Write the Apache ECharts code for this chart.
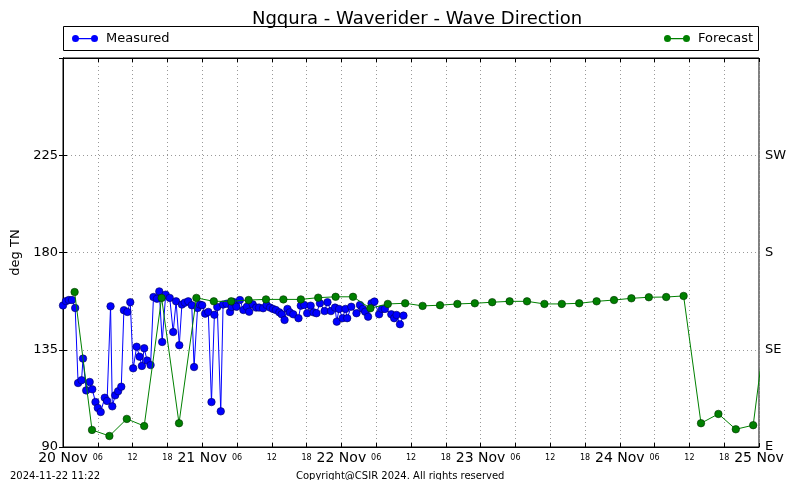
<!DOCTYPE html>
<html><head><meta charset="utf-8">
<script src="https://cdn.jsdelivr.net/npm/echarts@6/dist/echarts.min.js"></script>
<style>html,body{margin:0;padding:0;background:#fff}#c{width:800px;height:480px}</style>
</head><body><div id="c"></div>
<script>
// hours since 2024-11-20 00:00
const measuredHours = [0.0,0.5,1.0,1.55,2.1,2.6,3.2,3.45,4.0,4.6,5.05,5.6,6.0,6.5,7.2,7.6,8.2,8.5,9.0,9.5,10.05,10.5,11.1,11.6,12.1,12.7,13.2,13.6,14.0,14.5,15.1,
  15.6,16.2,16.6,17.1,17.7,18.4,19.0,19.5,20.05,20.5,21.0,21.6,22.2,22.6,23.2,23.6,24.0,24.5,25.05,25.6,26.1,26.6,27.2,27.6,28.2,28.8,29.1,29.4,
  29.9,30.5,31.1,31.7,32.1,32.7,33.3,33.8,34.5,35.1,35.7,36.2,36.7,37.3,37.7,38.2,38.7,39.1,39.7,40.6,41.0,41.6,42.1,42.7,43.2,43.7,44.3,45.1,45.6,46.2,46.9,47.2,47.6,48.2,48.7,49.0,49.7,50.6,51.2,51.7,52.1,52.6,53.2,53.7,54.5,55.0,55.5,56.6,57.1,57.5,58.1,58.7];
const measuredValues = [155.5,157.5,158,158,154.3,119.6,120.9,130.9,116.2,120.1,116.7,110.8,108.1,106.2,112.8,111.3,155.1,108.8,113.9,115.8,117.9,153.3,152.5,157.0,126.4,136.4,131.8,127.5,135.7,130.0,127.9,
  159.4,158.6,162.0,138.6,160.5,159.0,143.2,157.4,137.1,155.9,156.8,157.4,155.6,127.0,154.3,155.9,155.6,151.7,152.5,110.8,151.2,154.8,106.5,155.9,156.3,152.5,154.8,157.1,
  154.9,158.0,153.4,154.9,152.6,156.0,154.5,154.5,154.2,155.7,154.5,153.9,153.4,152.3,151.4,148.8,153.9,152.3,151.4,149.6,155.4,155.7,151.9,155.4,152.3,151.9,156.5,152.9,157.0,152.9,154.5,148.0,153.9,149.6,153.9,149.6,154.9,151.9,155.7,153.9,152.6,150.3,156.5,157.3,151.4,153.9,153.9,151.4,149.6,151.1,146.8,150.8];
const forecastHours = [2,5,8,11,14,17,20,23,26,29,32,35,38,41,44,47,50,53,56,59,62,65,68,71,74,77,80,83,86,89,92,95,98,101,104,107,110,113,116,119,122];
const forecastValues = [161.7,97.9,95.1,103,99.7,159,101,159,157.4,157.4,158,158.3,158.3,158.3,159.1,159.5,159.5,154.2,156.2,156.5,155.3,155.6,156.2,156.5,157.0,157.4,157.4,156.2,156.2,156.5,157.4,158.0,158.8,159.3,159.4,159.9,101,105.3,98.2,100.1,163];
const dayNames = ['20 Nov','21 Nov','22 Nov','23 Nov','24 Nov','25 Nov'];
const leftTickLabels = {90:'90',135:'135',180:'180',225:'225'};
const compassTickLabels = {90:'E',135:'SE',180:'S',225:'SW'};

const FONT = 'DejaVu Sans';
const chart = echarts.init(document.getElementById('c'), null, {renderer:'canvas'});
const legendIcon = 'path://M0,3.5A3.5,3.5 0 1,1 7,3.5A3.5,3.5 0 1,1 0,3.5Z M6,3L20,3L20,4.2L6,4.2Z M19,3.5A3.5,3.5 0 1,1 26,3.5A3.5,3.5 0 1,1 19,3.5Z';
const gridLine = {show:true, lineStyle:{color:'#999', type:[1,3], width:1}};
const legendCommon = {top:27, itemWidth:26, itemHeight:7, icon:legendIcon, z:10,
  itemStyle:{borderWidth:0},
  textStyle:{fontFamily:FONT, fontSize:13, color:'#000', padding:[0,0,0,3]}};

chart.setOption({
  animation:false,
  backgroundColor:'#fff',
  grid:{left:63, right:41, top:58, bottom:33, show:true, borderColor:'#000', borderWidth:1, containLabel:false},
  graphic:[
    {type:'rect', z:0, shape:{x:63.5, y:26.5, width:695, height:24}, style:{fill:'#fff', stroke:'#000', lineWidth:1}},
    {type:'text', x:417, y:10, style:{text:'Ngqura - Waverider - Wave Direction', font:'18px "DejaVu Sans"', fill:'#000', align:'center', verticalAlign:'top'}},
    {type:'text', x:10, y:471, style:{text:'2024-11-22 11:22', font:'10px "DejaVu Sans"', fill:'#000'}},
    {type:'text', x:296, y:471, style:{text:'Copyright@CSIR 2024. All rights reserved', font:'10px "DejaVu Sans"', fill:'#000'}}
  ],
  legend:[
    Object.assign({data:['Measured'], left:67}, legendCommon),
    Object.assign({data:['Forecast'], right:42}, legendCommon)
  ],
  xAxis:[
    {type:'value', position:'bottom', min:0, max:120, interval:6,
     axisLine:{show:true, lineStyle:{color:'#000', width:1}},
     axisTick:{show:true, inside:true, length:4, lineStyle:{color:'#000'}},
     axisLabel:{margin:4, showMinLabel:true, showMaxLabel:true,
       formatter:function(v){ if (v % 24 === 0) return '{d|' + dayNames[v/24] + '}'; return '{h|' + String(v % 24).padStart(2,'0') + '}'; },
       rich:{d:{fontFamily:FONT, fontSize:14, color:'#000'}, h:{fontFamily:FONT, fontSize:8, color:'#000', padding:[3,0,0,0]}}},
     splitLine:gridLine},
    {type:'value', position:'top', min:0, max:120, interval:6,
     axisLine:{show:true, lineStyle:{color:'#000'}},
     axisTick:{show:true, inside:true, length:4, lineStyle:{color:'#000'}},
     axisLabel:{show:false}, splitLine:{show:false}}
  ],
  yAxis:[
    {type:'value', position:'left', min:90, max:270, interval:45,
     name:'deg TN', nameLocation:'middle', nameGap:34, nameTextStyle:{fontFamily:FONT, fontSize:13, color:'#000'},
     axisLine:{show:true, lineStyle:{color:'#000'}},
     axisTick:{show:true, inside:true, length:4, lineStyle:{color:'#000'}},
     axisLabel:{margin:5, fontFamily:FONT, fontSize:13, color:'#000', showMaxLabel:true,
       formatter:function(v){ return leftTickLabels[v] || ''; }},
     splitLine:gridLine},
    {type:'value', position:'right', min:90, max:270, interval:45,
     axisLine:{show:true, lineStyle:{color:'#000'}},
     axisTick:{show:true, inside:true, length:4, lineStyle:{color:'#000'}},
     axisLabel:{margin:6, fontFamily:FONT, fontSize:13, color:'#000',
       formatter:function(v){ return compassTickLabels[v] || ''; }},
     splitLine:{show:false}}
  ],
  series:[
    {name:'Measured', type:'line', xAxisIndex:0, yAxisIndex:0, clip:true, z:2,
     data:measuredHours.map((h,i)=>[h, measuredValues[i]]),
     symbol:'circle', symbolSize:7.5, showAllSymbol:true,
     lineStyle:{color:'#0000ff', width:1},
     itemStyle:{color:'#0000ff', borderColor:'#00005a', borderWidth:0.6},
     emphasis:{disabled:true}},
    {name:'Forecast', type:'line', xAxisIndex:0, yAxisIndex:0, clip:true, z:3,
     data:forecastHours.map((h,i)=>[h, forecastValues[i]]),
     symbol:'circle', symbolSize:7.5, showAllSymbol:true,
     lineStyle:{color:'#008000', width:1},
     itemStyle:{color:'#008000', borderColor:'#003000', borderWidth:0.6},
     emphasis:{disabled:true}}
  ]
});
</script></body></html>
